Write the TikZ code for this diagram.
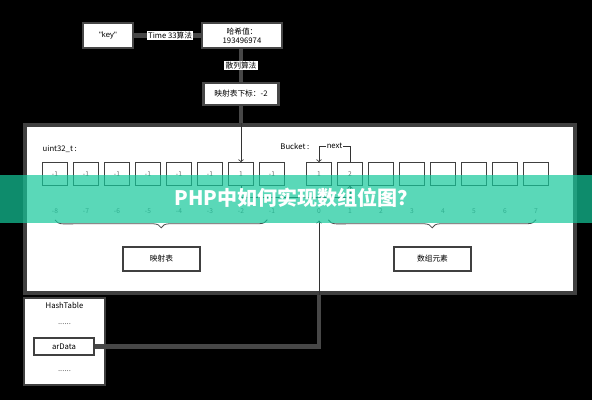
\documentclass[tikz,border=0pt]{standalone}
\usepackage{fontspec}
\setmainfont{Noto Sans CJK SC}
\newfontfamily\latin{Liberation Sans}
\usetikzlibrary{positioning,decorations.pathreplacing}

\definecolor{banner}{RGB}{20,200,155}

\tikzset{
  small/.style={font=\fontsize{5.8}{7}\selectfont},
  topbox/.style={small, draw=black!72, line width=2pt, fill=white, align=center, inner sep=1pt},
  tag/.style={small, fill=white, inner sep=1pt},
  link/.style={draw=black!72, line width=3.5pt},
  panel/.style={draw=black!75, line width=2.5pt, fill=white},
  cell/.style={draw=black!75, line width=0.6pt, minimum width=18.75pt, minimum height=17pt, inner sep=0pt, font=\fontsize{5}{6}\selectfont, text=black!60},
  idx/.style={font=\fontsize{5}{6}\selectfont, text=black!55, inner sep=0pt},
  ptr/.style={draw=black!80, line width=0.6pt, ->},
  brc/.style={draw=black!70, line width=0.6pt, decorate, decoration={brace, mirror, amplitude=6pt}},
  box/.style={small, draw=black!75, line width=0.8pt, minimum width=57.75pt, minimum height=18pt},
}

\begin{document}
\begin{tikzpicture}[x=0.75pt, y=-0.75pt]
            \fill[black] (0,0) rectangle (592,400);
            \useasboundingbox (0,0) rectangle (592,400);

            % hashing steps
            \node[topbox, minimum width=37.5pt, minimum height=18.75pt] (key) at (108,35.5) {\latin"key"};
            \node[topbox, minimum width=60pt, minimum height=18.75pt] (hash) at (242,35.5) {哈希值：\\193496974};
            \node[topbox, minimum width=56pt, minimum height=16.5pt] (slot) at (241,94) {映射表下标：-2};

            \draw[link] (key) -- node[tag, midway, xshift=2pt] {Time 33算法} (hash);
            \draw[link] (hash.south -| slot) -- node[tag, midway] {散列算法} (slot);

            % arData memory
            \node[panel, minimum width=412.5pt, minimum height=126pt] (panel) at (300,209) {};

            \node[small, anchor=west] (uint) at (38,149) {uint32\_t :};
            \node[small, anchor=east] (bucket) at (314,146) {Bucket :};

            \node[cell] (cm8) at (55,174) {-1};
            \node[cell, right=3.9pt of cm8] (cm7) {-1};
            \node[cell, right=3.9pt of cm7] (cm6) {-1};
            \node[cell, right=3.9pt of cm6] (cm5) {-1};
            \node[cell, right=3.9pt of cm5] (cm4) {-1};
            \node[cell, right=3.9pt of cm4] (cm3) {-1};
            \node[cell, right=3.9pt of cm3] (cm2) {1};
            \node[cell, right=3.9pt of cm2] (cm1) {-1};

            \node[cell] (c0) at (319,174) {1};
            \node[cell, right=3.9pt of c0] (c1) {2};
            \node[cell, right=3.9pt of c1] (c2) {};
            \node[cell, right=3.9pt of c2] (c3) {};
            \node[cell, right=3.9pt of c3] (c4) {};
            \node[cell, right=3.9pt of c4] (c5) {};
            \node[cell, right=3.9pt of c5] (c6) {};
            \node[cell, right=3.9pt of c6] (c7) {};

            \node[idx, below=17pt of cm8] (im8) {-8};
            \node[idx, below=17pt of cm7] (im7) {-7};
            \node[idx, below=17pt of cm6] (im6) {-6};
            \node[idx, below=17pt of cm5] (im5) {-5};
            \node[idx, below=17pt of cm4] (im4) {-4};
            \node[idx, below=17pt of cm3] (im3) {-3};
            \node[idx, below=17pt of cm2] (im2) {-2};
            \node[idx, below=17pt of cm1] (im1) {-1};
            \node[idx, below=17pt of c0] (i0) {0};
            \node[idx, below=17pt of c1] (i1) {1};
            \node[idx, below=17pt of c2] (i2) {2};
            \node[idx, below=17pt of c3] (i3) {3};
            \node[idx, below=17pt of c4] (i4) {4};
            \node[idx, below=17pt of c5] (i5) {5};
            \node[idx, below=17pt of c6] (i6) {6};
            \node[idx, below=17pt of c7] (i7) {7};

            \draw[brc] ([yshift=-4.5pt]im8.south) -- ([yshift=-4.5pt, xshift=-3.5pt]im1.south);
            \draw[brc] ([yshift=-4.5pt, xshift=7pt]i0.south) -- ([yshift=-4.5pt]i7.south);

            \node[box] (maptbl) at (161.5,259) {映射表};
            \node[box] (elems) at (432.5,259) {数组元素};

            % HashTable struct
            \node[panel, line width=2pt, minimum width=60.75pt, minimum height=65.25pt] (ht) at (64.5,341.5) {};
            \node[small, below=1pt of ht.north] (htname) {HashTable};
            \node[small, text=black!60] (dots1) at (64.5,324) {......};
            \node[small, draw=black!75, line width=0.8pt, minimum width=45pt, minimum height=12.75pt, inner sep=0pt] (ardata) at (64,346.5) {arData};
            \node[small, text=black!60] (dots2) at (64.5,371) {......};

            % pointers
            \draw[link] (slot.south -| cm2) -- (cm2 |- panel.north);
            \draw[ptr] (cm2 |- panel.north) -- (cm2.north);
            \draw[ptr] (c1.north) -- ++(0,-16) -| node[tag, pos=0.25, inner sep=0.5pt] {next} (c0.north);
            \draw[ptr] (cm2.south) -- ++(0,12) -| (c1.south);
            \draw[link] (ardata.east) -| (c0 |- panel.south);
            \draw[ptr] (c0 |- panel.south) -- ([yshift=-5pt]i0.south);

            % title band
            \fill[banner, opacity=0.7] (0,175) rectangle (592,223);
            \node[text=white, font=\fontsize{15}{17}\selectfont\bfseries] (title) at (296,198) {PHP中如何实现数组位图？};
        \end{tikzpicture}
\end{document}
